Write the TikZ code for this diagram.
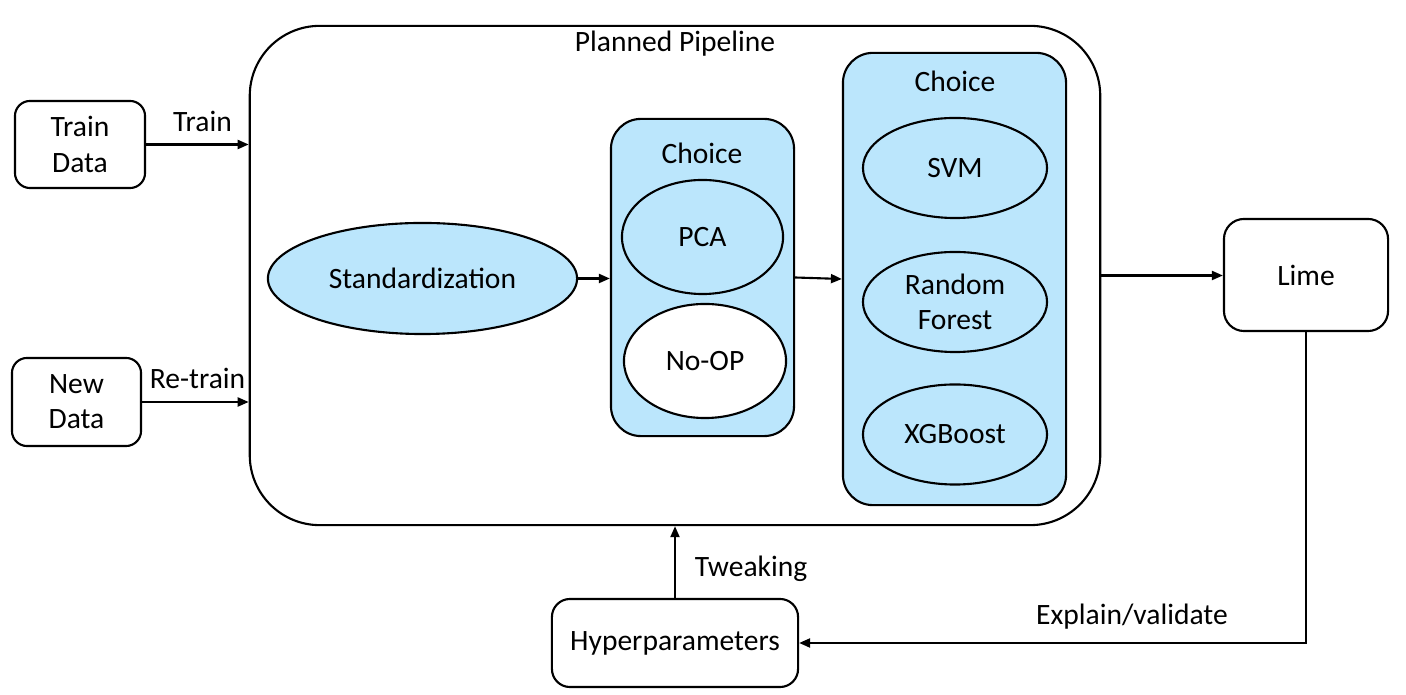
\documentclass[tikz,border=0pt]{standalone}
\usepackage{fontspec}
\setmainfont{Carlito}
\usetikzlibrary{shapes.geometric,arrows.meta}
\definecolor{choiceblue}{RGB}{187, 230, 252}

\begin{document}
\begin{tikzpicture}[x=0.01cm, y=-0.01cm, line width=0.6pt,
    font=\fontsize{8.4}{10}\selectfont,
    box/.style={draw, rounded corners=#1, align=center, inner sep=0pt},
    oval/.style={draw, ellipse, fill=#1, inner sep=0pt, align=center},
    arr/.style={-{Triangle[length=1.1mm, width=0.9mm]}}]
    \useasboundingbox (0,0) rectangle (1406,695);

    % Planned pipeline container
    \node[box=0.7cm, minimum width=8.5cm, minimum height=4.99cm] (pipe) at (675,275.5) {};
    \node (ptitle) at (675,44) {Planned Pipeline};

    % Data inputs
    \node[box=0.15cm, minimum width=1.3cm, minimum height=0.87cm] (train) at (80,144.5) {Train\\Data};
    \node[box=0.15cm, minimum width=1.29cm, minimum height=0.88cm] (new) at (76.5,402) {New\\Data};

    % Preprocessing
    \node[oval=choiceblue, minimum width=3.09cm, minimum height=1.11cm] (std) at (422.5,278.5) {Standardization};

    % First choice
    \node[box=0.3cm, fill=choiceblue, minimum width=1.83cm, minimum height=3.17cm] (choicea) at (702.5,277.5) {};
    \node (choiceatxt) at (702,153) {Choice};
    \node[oval=choiceblue, minimum width=1.61cm, minimum height=1.14cm] (pca) at (702.5,237) {PCA};
    \node[oval=white, minimum width=1.62cm, minimum height=1.14cm] (noop) at (705,361) {No-OP};

    % Second choice
    \node[box=0.3cm, fill=choiceblue, minimum width=2.23cm, minimum height=4.52cm] (choiceb) at (954.5,279) {};
    \node (choicebtxt) at (955,81) {Choice};
    \node[oval=choiceblue, minimum width=1.84cm, minimum height=1.0cm] (svm) at (955,168) {SVM};
    \node[oval=choiceblue, minimum width=1.84cm, minimum height=1.0cm] (rf) at (955,302) {Random\\Forest};
    \node[oval=choiceblue, minimum width=1.84cm, minimum height=1.0cm] (xgb) at (955,434.5) {XGBoost};

    % Explanation and tuning
    \node[box=0.2cm, minimum width=1.64cm, minimum height=1.12cm] (lime) at (1306,275) {Lime};
    \node[box=0.18cm, minimum width=2.46cm, minimum height=0.88cm] (hyper) at (675,643) {Hyperparameters};

    % Connectors
    \draw[arr] (train.east) -- (train.east -| pipe.west) node[pos=0.55, above=0pt] (trainlbl) {Train};
    \draw[arr] (new.east) -- (new.east -| pipe.west) node[pos=0.52, above=0pt] (newlbl) {Re-train};
    \draw[arr] (std.east) -- (std.east -| choicea.west);
    \draw[arr] (choicea.east) -- (choiceb.west);
    \draw[arr] (pipe.east) -- (pipe.east -| lime.west);
    \draw[arr] (lime.south) |- (hyper.east);
    \draw[arr] (hyper.north) -- (hyper.north |- pipe.south);

    \node (tweaklbl) at (751,569) {Tweaking};
    \node (explainlbl) at (1132,617) {Explain/validate};
\end{tikzpicture}
\end{document}
